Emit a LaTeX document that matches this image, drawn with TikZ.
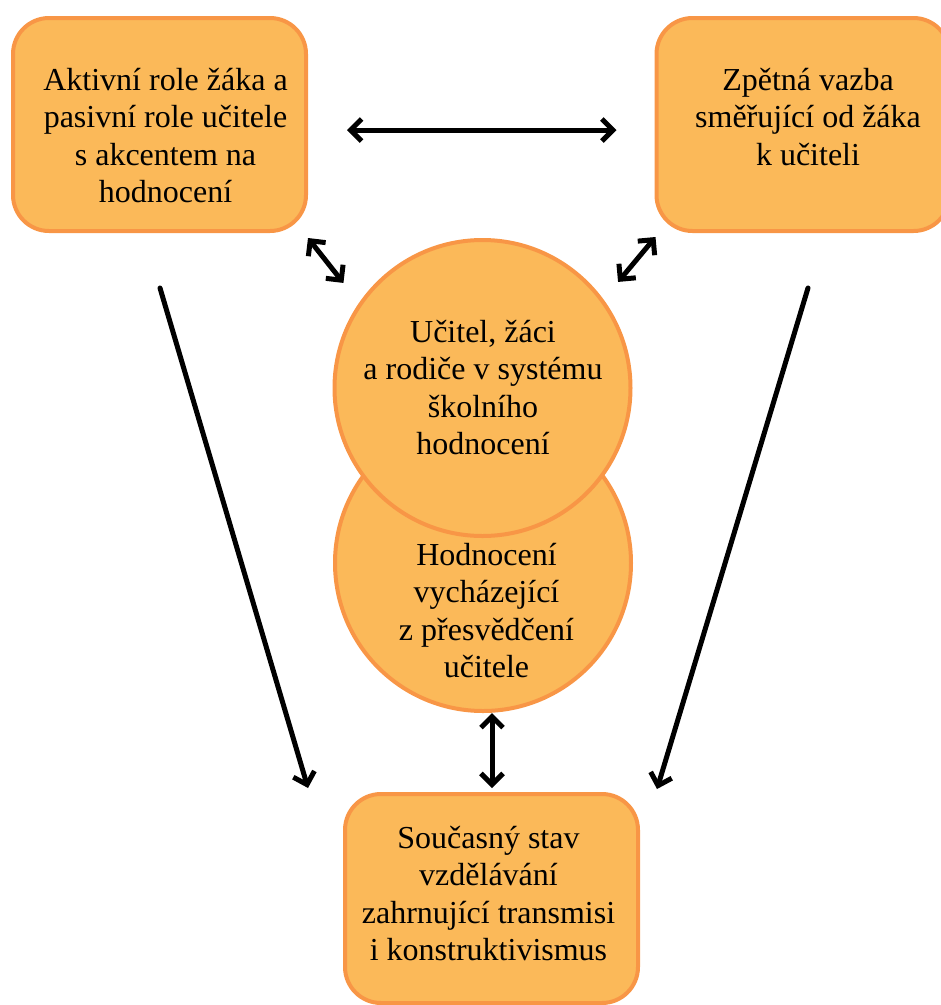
\documentclass[tikz,border=0pt]{standalone}
\usepackage{fontspec}
\setmainfont{Liberation Serif}
\usetikzlibrary{arrows.meta}
\definecolor{boxfill}{RGB}{251,185,89}
\definecolor{boxline}{RGB}{248,150,70}
% centred lines; the baseline of the block is the baseline of its first line
\newcommand\txtlines[1]{\vtop{\baselineskip=37.5pt\lineskiplimit=-100pt\halign{\hfil##\hfil\cr#1\crcr}}}
\begin{document}
\begin{tikzpicture}[x=1pt,y=-1pt,
  panel/.style={draw=boxline,fill=boxfill,line width=4pt,rounded corners=36pt,
    minimum width=293pt,minimum height=213pt,inner sep=0pt},
  disc/.style={circle,draw=boxline,fill=boxfill,line width=4pt,minimum size=296pt,inner sep=0pt},
  txt/.style={anchor=base,inner sep=0pt,font=\fontsize{32}{37.5}\selectfont},
  tip/.tip={Straight Barb[length=11pt,width=22pt]},
  link/.style={line width=5pt,line cap=round,-tip},
  dlink/.style={line width=5pt,line cap=round,tip-tip}]
\useasboundingbox (0,0) rectangle (941,1005);

% panels
\node[panel] (L) at (159.5,124.5) {};
\node[panel] (R) at (803,124.5) {};
\node[panel,minimum height=209pt] (B) at (491.5,898.5) {};
\node[disc] (C2) at (483,563) {};
\node[disc] (C1) at (482.5,388) {};

% labels
\node[txt] (Lt) at (165.5,90) {\txtlines{Aktivní role žáka a\cr pasivní role učitele\cr s akcentem na\cr hodnocení}};
\node[txt] (Rt) at (808,90) {\txtlines{Zpětná vazba\cr směřující od žáka\cr k učiteli}};
\node[txt] (C1t) at (483,342) {\txtlines{Učitel, žáci\cr a rodiče v systému\cr školního\cr hodnocení}};
\node[txt] (C2t) at (486.5,565) {\txtlines{Hodnocení\cr vycházející\cr z přesvědčení\cr učitele}};
\node[txt] (Bt) at (488.5,848) {\txtlines{Současný stav\cr vzdělávání\cr zahrnující transmisi\cr i konstruktivismus}};

% connectors
\draw[dlink] ([shift={(39,5.5)}]L.east) -- ([shift={(-38,5.5)}]R.west);
\draw[dlink] ([shift={(0,5)}]L.south east) -- ([shift={(-33,1)}]C1.north west);
\draw[dlink] ([shift={(1,4)}]R.south west) -- ([shift={(29.5,0)}]C1.north east);
\draw[link] ([shift={(0.5,55)}]L.south) -- ([shift={(-35,-4)}]B.north west);
\draw[link] ([shift={(5,55)}]R.south) -- ([shift={(17,-3)}]B.north east);
\draw[dlink] ([shift={(9,0)}]C2.south) -- ([shift={(0.5,-4)}]B.north);
\end{tikzpicture}
\end{document}
